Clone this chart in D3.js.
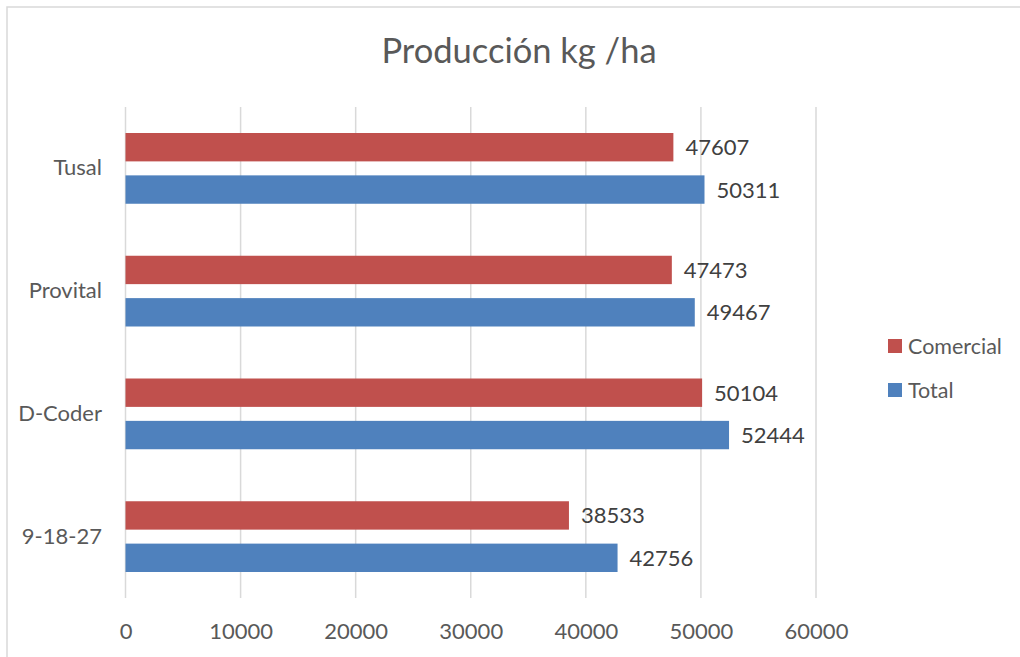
<!DOCTYPE html>
<html>
<head>
<meta charset="utf-8">
<script src="https://cdn.jsdelivr.net/npm/d3@7"></script>
<style>
  body { margin: 0; background: #fff; }
  text { font-family: Lato, "Open Sans", sans-serif; }
</style>
</head>
<body>
<script>
// datos
var categorias = ["Tusal", "Provital", "D-Coder", "9-18-27"];
var comercial = [47607, 47473, 50104, 38533];
var total = [50311, 49467, 52444, 42756];
var series = ["Comercial", "Total"];
var colores = ["#C0504D", "#4F81BD"];
var ticks = [0, 10000, 20000, 30000, 40000, 50000, 60000];

var W = 1020, H = 657;
var svg = d3.select("body").append("svg")
    .attr("width", W)
    .attr("height", H);

// borde del grafico
svg.append("rect")
    .attr("x", 7).attr("y", 7)
    .attr("width", W + 10).attr("height", H + 10)
    .attr("fill", "none")
    .attr("stroke", "#d9d9d9")
    .attr("stroke-width", 1.5);

// titulo
svg.append("text")
    .attr("x", 519).attr("y", 63)
    .attr("text-anchor", "middle")
    .attr("font-size", 34.5)
    .attr("fill", "#595959")
    .text("Producción kg /ha");

var x = d3.scaleLinear().domain([0, 60000]).range([125.5, 816]);
var y = d3.scaleBand().domain(categorias).range([107, 598]);
var y1 = d3.scaleBand().domain(series).range([26, y.bandwidth() - 26]).paddingInner(0.33);

// lineas de cuadricula
svg.append("g").selectAll("line")
    .data(ticks)
    .enter().append("line")
    .attr("x1", function(d) { return x(d); })
    .attr("x2", function(d) { return x(d); })
    .attr("y1", 107).attr("y2", 598)
    .attr("stroke", "#d9d9d9")
    .attr("stroke-width", 1.5);

// etiquetas eje x
var xAxis = d3.axisBottom(x).tickValues(ticks).tickSize(0).tickPadding(0).tickFormat(d3.format("d"));
var gx = svg.append("g").attr("transform", "translate(0,623)").call(xAxis);
gx.select(".domain").remove();
gx.selectAll("text")
    .attr("font-family", "Lato, 'Open Sans', sans-serif")
    .attr("font-size", 22)
    .attr("fill", "#595959");

// etiquetas eje y
var yAxis = d3.axisLeft(y).tickSize(0).tickPadding(0);
var gy = svg.append("g").attr("transform", "translate(102,0)").call(yAxis);
gy.select(".domain").remove();
gy.selectAll("text")
    .attr("font-family", "Lato, 'Open Sans', sans-serif")
    .attr("font-size", 22)
    .attr("fill", "#595959");

// barras
var filas = categorias.map(function(c, i) {
  return {cat: c, vals: [{s: "Comercial", v: comercial[i]}, {s: "Total", v: total[i]}]};
});

var grupos = svg.append("g").selectAll("g")
    .data(filas)
    .enter().append("g")
    .attr("transform", function(d) { return "translate(0," + y(d.cat) + ")"; });

grupos.selectAll("rect")
    .data(function(d) { return d.vals; })
    .enter().append("rect")
    .attr("x", x(0))
    .attr("y", function(d) { return y1(d.s); })
    .attr("width", function(d) { return x(d.v) - x(0); })
    .attr("height", y1.bandwidth())
    .attr("fill", function(d, i) { return colores[i]; });

grupos.selectAll("text")
    .data(function(d) { return d.vals; })
    .enter().append("text")
    .attr("x", function(d) { return x(d.v) + 12; })
    .attr("y", function(d) { return y1(d.s) + y1.bandwidth() / 2 + 8; })
    .attr("font-size", 22)
    .attr("fill", "#404040")
    .text(function(d) { return d.v; });

// leyenda
var ley = svg.append("g").selectAll("g")
    .data(series)
    .enter().append("g")
    .attr("transform", function(d, i) { return "translate(888," + (339 + i * 44) + ")"; });
ley.append("rect")
    .attr("width", 14).attr("height", 14)
    .attr("fill", function(d, i) { return colores[i]; });
ley.append("text")
    .attr("x", 20).attr("y", 15)
    .attr("font-size", 21.5)
    .attr("fill", "#595959")
    .text(function(d) { return d; });
</script>
</body>
</html>
